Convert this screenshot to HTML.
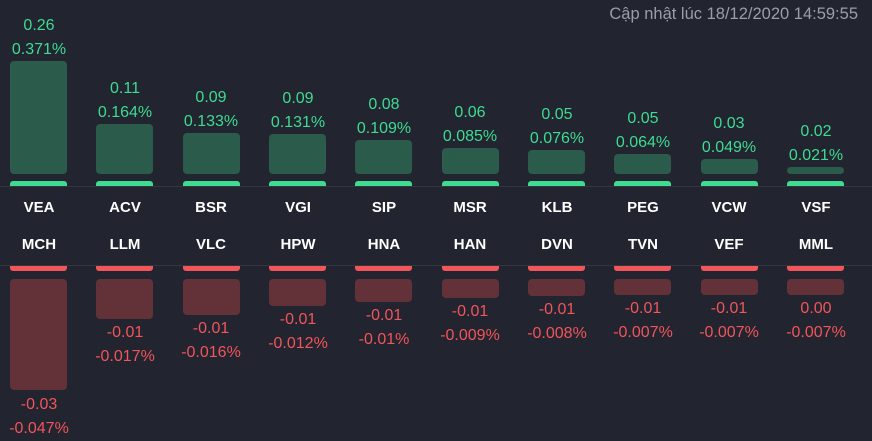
<!DOCTYPE html>
<html><head><meta charset="utf-8"><style>
body{margin:0;width:872px;height:441px;background:#222430;overflow:hidden;font-family:"Liberation Sans",sans-serif;position:relative}
div{position:absolute}
.t{width:86px;text-align:center;line-height:20px;font-size:16px}
.g{color:#3ddc91}.r{color:#f2555a}
.k{color:#fff;font-weight:bold;font-size:15px}
.gb{background:#2a5b4b;border-radius:4px;width:57px}
.rb{background:#633238;border-radius:4px;width:57px}
.gs{background:#3ddc91;height:5px;width:57px;top:181px;border-radius:3px 3px 0 0}
.rs{background:#f2555a;height:5px;width:57px;top:266px;border-radius:0 0 3px 3px}
.ln{left:0;width:872px;height:1px;background:#33353f}
.u{margin-top:2px}
</style></head><body>
<div style="right:14px;top:4px;color:#9a9ea8;font-size:16.5px;line-height:20px">Cập nhật lúc 18/12/2020 14:59:55</div>
<div class="ln" style="top:186px"></div><div class="ln" style="top:265px"></div>

<div class="gb" style="left:10px;top:61px;height:113px"></div>
<div class="gb" style="left:96px;top:124px;height:50px"></div>
<div class="gb" style="left:183px;top:133px;height:41px"></div>
<div class="gb" style="left:269px;top:134px;height:40px"></div>
<div class="gb" style="left:355px;top:140px;height:34px"></div>
<div class="gb" style="left:442px;top:148px;height:26px"></div>
<div class="gb" style="left:528px;top:150px;height:24px"></div>
<div class="gb" style="left:614px;top:154px;height:20px"></div>
<div class="gb" style="left:701px;top:159px;height:15px"></div>
<div class="gb" style="left:787px;top:167px;height:7px"></div>

<div class="gs" style="left:10px"></div><div class="gs" style="left:96px"></div><div class="gs" style="left:183px"></div><div class="gs" style="left:269px"></div><div class="gs" style="left:355px"></div><div class="gs" style="left:442px"></div><div class="gs" style="left:528px"></div><div class="gs" style="left:614px"></div><div class="gs" style="left:701px"></div><div class="gs" style="left:787px"></div>
<div class="rs" style="left:10px"></div><div class="rs" style="left:96px"></div><div class="rs" style="left:183px"></div><div class="rs" style="left:269px"></div><div class="rs" style="left:355px"></div><div class="rs" style="left:442px"></div><div class="rs" style="left:528px"></div><div class="rs" style="left:614px"></div><div class="rs" style="left:701px"></div><div class="rs" style="left:787px"></div>

<div class="rb" style="left:10px;top:279px;height:111px"></div>
<div class="rb" style="left:96px;top:279px;height:40px"></div>
<div class="rb" style="left:183px;top:279px;height:36px"></div>
<div class="rb" style="left:269px;top:279px;height:27px"></div>
<div class="rb" style="left:355px;top:279px;height:23px"></div>
<div class="rb" style="left:442px;top:279px;height:19px"></div>
<div class="rb" style="left:528px;top:279px;height:17px"></div>
<div class="rb" style="left:614px;top:279px;height:16px"></div>
<div class="rb" style="left:701px;top:279px;height:16px"></div>
<div class="rb" style="left:787px;top:279px;height:16px"></div>

<div class="t g u" style="left:-4px;top:14px">0.26</div><div class="t g u" style="left:-4px;top:38px">0.371%</div>
<div class="t g u" style="left:82px;top:77px">0.11</div><div class="t g u" style="left:82px;top:101px">0.164%</div>
<div class="t g u" style="left:168px;top:86px">0.09</div><div class="t g u" style="left:168px;top:110px">0.133%</div>
<div class="t g u" style="left:255px;top:87px">0.09</div><div class="t g u" style="left:255px;top:111px">0.131%</div>
<div class="t g u" style="left:341px;top:93px">0.08</div><div class="t g u" style="left:341px;top:117px">0.109%</div>
<div class="t g u" style="left:427px;top:101px">0.06</div><div class="t g u" style="left:427px;top:125px">0.085%</div>
<div class="t g u" style="left:514px;top:103px">0.05</div><div class="t g u" style="left:514px;top:127px">0.076%</div>
<div class="t g u" style="left:600px;top:107px">0.05</div><div class="t g u" style="left:600px;top:131px">0.064%</div>
<div class="t g u" style="left:686px;top:112px">0.03</div><div class="t g u" style="left:686px;top:136px">0.049%</div>
<div class="t g u" style="left:773px;top:120px">0.02</div><div class="t g u" style="left:773px;top:144px">0.021%</div>

<div class="t k" style="left:-4px;top:198px">VEA</div><div class="t k" style="left:82px;top:198px">ACV</div><div class="t k" style="left:168px;top:198px">BSR</div><div class="t k" style="left:255px;top:198px">VGI</div><div class="t k" style="left:341px;top:198px">SIP</div><div class="t k" style="left:427px;top:198px">MSR</div><div class="t k" style="left:514px;top:198px">KLB</div><div class="t k" style="left:600px;top:198px">PEG</div><div class="t k" style="left:686px;top:198px">VCW</div><div class="t k" style="left:773px;top:198px">VSF</div>
<div class="t k" style="left:-4px;top:235px">MCH</div><div class="t k" style="left:82px;top:235px">LLM</div><div class="t k" style="left:168px;top:235px">VLC</div><div class="t k" style="left:255px;top:235px">HPW</div><div class="t k" style="left:341px;top:235px">HNA</div><div class="t k" style="left:427px;top:235px">HAN</div><div class="t k" style="left:514px;top:235px">DVN</div><div class="t k" style="left:600px;top:235px">TVN</div><div class="t k" style="left:686px;top:235px">VEF</div><div class="t k" style="left:773px;top:235px">MML</div>

<div class="t r u" style="left:-4px;top:393px">-0.03</div><div class="t r u" style="left:-4px;top:417px">-0.047%</div>
<div class="t r u" style="left:82px;top:321px">-0.01</div><div class="t r u" style="left:82px;top:345px">-0.017%</div>
<div class="t r u" style="left:168px;top:317px">-0.01</div><div class="t r u" style="left:168px;top:341px">-0.016%</div>
<div class="t r u" style="left:255px;top:308px">-0.01</div><div class="t r u" style="left:255px;top:332px">-0.012%</div>
<div class="t r u" style="left:341px;top:304px">-0.01</div><div class="t r u" style="left:341px;top:328px">-0.01%</div>
<div class="t r u" style="left:427px;top:300px">-0.01</div><div class="t r u" style="left:427px;top:324px">-0.009%</div>
<div class="t r u" style="left:514px;top:298px">-0.01</div><div class="t r u" style="left:514px;top:322px">-0.008%</div>
<div class="t r u" style="left:600px;top:297px">-0.01</div><div class="t r u" style="left:600px;top:321px">-0.007%</div>
<div class="t r u" style="left:686px;top:297px">-0.01</div><div class="t r u" style="left:686px;top:321px">-0.007%</div>
<div class="t r u" style="left:773px;top:297px">0.00</div><div class="t r u" style="left:773px;top:321px">-0.007%</div>
</body></html>
